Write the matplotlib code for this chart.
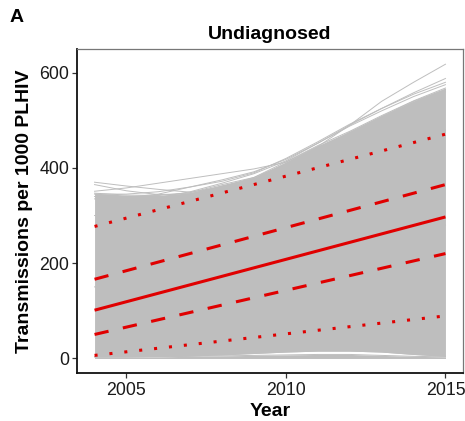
import numpy as np
import matplotlib
matplotlib.use("Agg")
from matplotlib import pyplot as plt

plt.rcParams['font.family'] = ['Liberation Sans', 'DejaVu Sans']

# Годы моделирования
years = np.arange(2004, 2016)

# Основная масса симуляций (верхняя и нижняя граница пучка + пара внутренних)
bulk_runs = np.array([
    [347, 343, 342, 348, 365, 380, 413, 447, 477, 510, 541, 568],
    [300, 298, 302, 310, 322, 338, 360, 385, 410, 438, 462, 480],
    [150, 152, 158, 165, 175, 188, 200, 215, 232, 250, 266, 280],
    [3, 3, 4, 5, 7, 10, 13, 15, 15, 13, 8, 4],
])
# Симуляции около нуля
floor_runs = np.array([
    [1, 1, 1, 1, 1, 1, 1, 1, 1, 1, 1, 1],
    [3, 3, 3, 4, 5, 6, 7, 8, 8, 6, 4, 3],
])
# Отдельные траектории, выходящие за пучок
outlier_runs = np.array([
    [370, 362, 355, 349, 360, 378, 405, 440, 470, 505, 535, 560],
    [351, 358, 368, 378, 388, 398, 412, 445, 490, 540, 580, 618],
    [340, 338, 345, 360, 375, 392, 418, 452, 490, 525, 558, 588],
    [345, 345, 350, 360, 372, 390, 420, 455, 492, 525, 555, 580],
    [335, 335, 338, 350, 368, 388, 415, 452, 488, 520, 550, 575],
    [365, 352, 344, 346, 360, 380, 408, 440, 475, 508, 540, 565],
])

# Медиана и интервалы (значения в 2004 и 2015)
end_years = [2004, 2015]
median = [101, 297]
iqr_lo = [50, 220]
iqr_hi = [166, 365]
ci_lo = [6, 89]
ci_hi = [277, 471]

grey = '#BEBEBE'
red = '#E00000'

fig = plt.figure(figsize=(4.65, 4.21), dpi=100)
ax = fig.add_axes([77 / 465, 48 / 421, 386 / 465, 324 / 421])

for group in (bulk_runs, floor_runs):
    ax.fill_between(years, group.min(axis=0), group.max(axis=0),
                    color=grey, linewidth=0)
for run in np.vstack([bulk_runs, floor_runs, outlier_runs]):
    ax.plot(years, run, color=grey, lw=0.7)

lw = 2.2
ax.plot(end_years, median, color=red, lw=lw, solid_capstyle='butt')
for band in (iqr_lo, iqr_hi):
    ax.plot(end_years, band, color=red, lw=lw, linestyle=(0, (4.7, 4.8)),
            dash_capstyle='butt')
for band in (ci_lo, ci_hi):
    ax.plot(end_years, band, color=red, lw=lw, linestyle=(0, (1, 3.9)),
            dash_capstyle='butt')

ax.set_xlim(2003.45, 2015.55)
ax.set_ylim(-31, 650)
ax.set_xticks([2005, 2010, 2015])
ax.set_yticks([0, 200, 400, 600])
ax.tick_params(labelsize=12.8, labelcolor='#1a1a1a', length=3.5, width=0.9,
               color='#333333')
ax.tick_params(axis='x', pad=3)
ax.tick_params(axis='y', pad=2)

for side in ('left', 'bottom'):
    ax.spines[side].set_color('#111111')
    ax.spines[side].set_linewidth(1.3)
for side in ('top', 'right'):
    ax.spines[side].set_color('#777777')
    ax.spines[side].set_linewidth(0.9)

ax.set_title('Undiagnosed', fontsize=14, fontweight='bold', pad=7)
ax.set_xlabel('Year', fontsize=14, fontweight='bold')
ax.set_ylabel('Transmissions per 1000 PLHIV', fontsize=14, fontweight='bold')
ax.xaxis.set_label_coords(0.5, -0.093)
ax.yaxis.set_label_coords(-0.114, 0.5)

fig.text(10 / 465, 1 - 9 / 421, 'A', fontsize=14, fontweight='bold',
         ha='left', va='top')

fig.savefig('out.png', dpi=100)
